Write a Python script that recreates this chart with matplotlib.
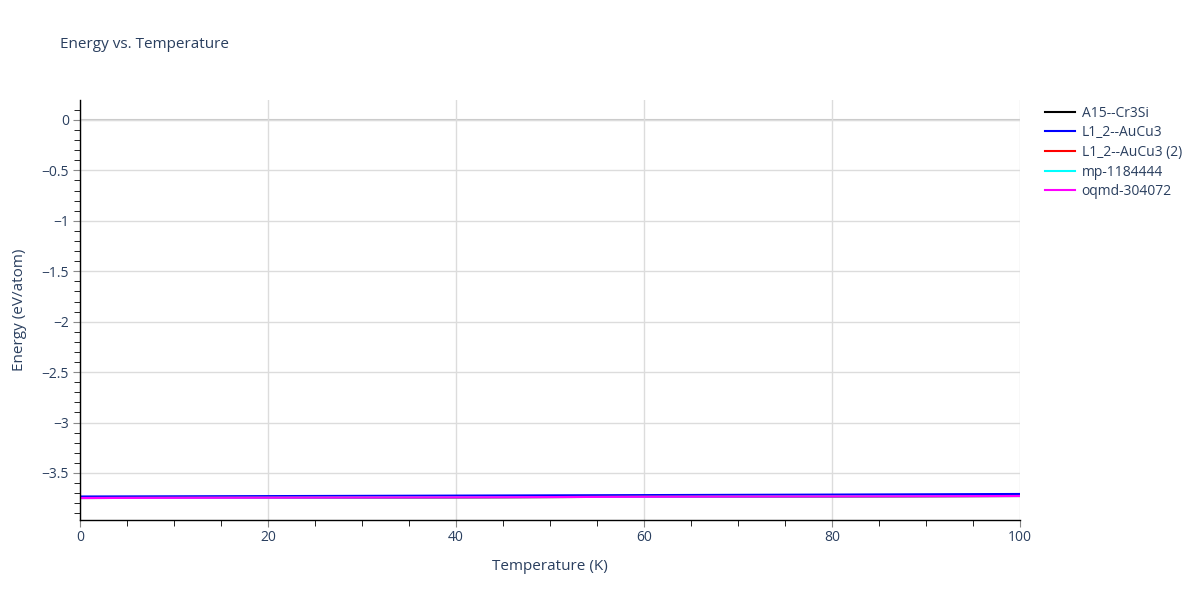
import matplotlib
matplotlib.use("Agg")
import matplotlib.pyplot as plt
from matplotlib.ticker import MultipleLocator

temperature = [0, 20, 40, 60, 80, 100]
a15_cr3si = [-3.748, -3.745, -3.741, -3.736, -3.732, -3.728]
l12_aucu3 = [-3.733, -3.729, -3.724, -3.719, -3.714, -3.708]
l12_aucu3_2 = [-3.748, -3.745, -3.741, -3.736, -3.732, -3.728]
mp_1184444 = [-3.748, -3.745, -3.741, -3.736, -3.732, -3.728]
oqmd_304072 = [-3.748, -3.745, -3.741, -3.736, -3.732, -3.728]

series = [
    ("A15--Cr3Si", a15_cr3si, "#000000"),
    ("L1_2--AuCu3", l12_aucu3, "#0000ff"),
    ("L1_2--AuCu3 (2)", l12_aucu3_2, "#ff0000"),
    ("mp-1184444", mp_1184444, "#00ffff"),
    ("oqmd-304072", oqmd_304072, "#ff00ff"),
]

text_color = "#2a3f5f"
plt.rcParams["font.family"] = ["Open Sans", "DejaVu Sans"]

fig = plt.figure(figsize=(12, 6), dpi=100)
ax = fig.add_axes([80 / 1200, 80 / 600, 940 / 1200, 420 / 600])

for name, vals, col in series:
    ax.plot(temperature, vals, color=col, lw=1.5, label=name)

ax.set_xlim(0, 100)
ax.set_ylim(-3.966, 0.198)
ax.axhline(0, color="#c8c8c8", lw=1.5, zorder=0.5)

ax.xaxis.set_major_locator(MultipleLocator(20))
ax.xaxis.set_minor_locator(MultipleLocator(5))
ax.yaxis.set_major_locator(MultipleLocator(0.5))
ax.yaxis.set_minor_locator(MultipleLocator(0.1))
ax.grid(True, which="major", color="#dcdcdc", lw=1)
ax.set_axisbelow(True)

for s in ["top", "right"]:
    ax.spines[s].set_visible(False)
for s in ["left", "bottom"]:
    ax.spines[s].set_color("#000000")
    ax.spines[s].set_linewidth(1)

ax.tick_params(axis="both", which="major", direction="out", length=5, color="#888888",
               labelcolor=text_color, labelsize=10, pad=3)
ax.tick_params(axis="x", which="major", pad=2)
ax.tick_params(axis="both", which="minor", direction="out", length=4, color="#000000")

def fmt(v, pos):
    return f"{v:g}".replace("-", "\u2212")
ax.yaxis.set_major_formatter(plt.FuncFormatter(fmt))

ax.set_xlabel("Temperature (K)", color=text_color, fontsize=11, labelpad=10)
ax.set_ylabel("Energy (eV/atom)", color=text_color, fontsize=11, labelpad=10)
fig.text(60 / 1200, 1 - 45 / 600, "Energy vs. Temperature", color=text_color,
         fontsize=11, va="center", ha="left")

leg = fig.legend(loc="upper left", bbox_to_anchor=(1042 / 1200, 1 - 103 / 600),
                 frameon=False, fontsize=10, handlelength=2.2, handletextpad=0.45,
                 labelspacing=0.33, borderaxespad=0.0, borderpad=0.2)
for t in leg.get_texts():
    t.set_color(text_color)

fig.savefig("out.png", dpi=100)
